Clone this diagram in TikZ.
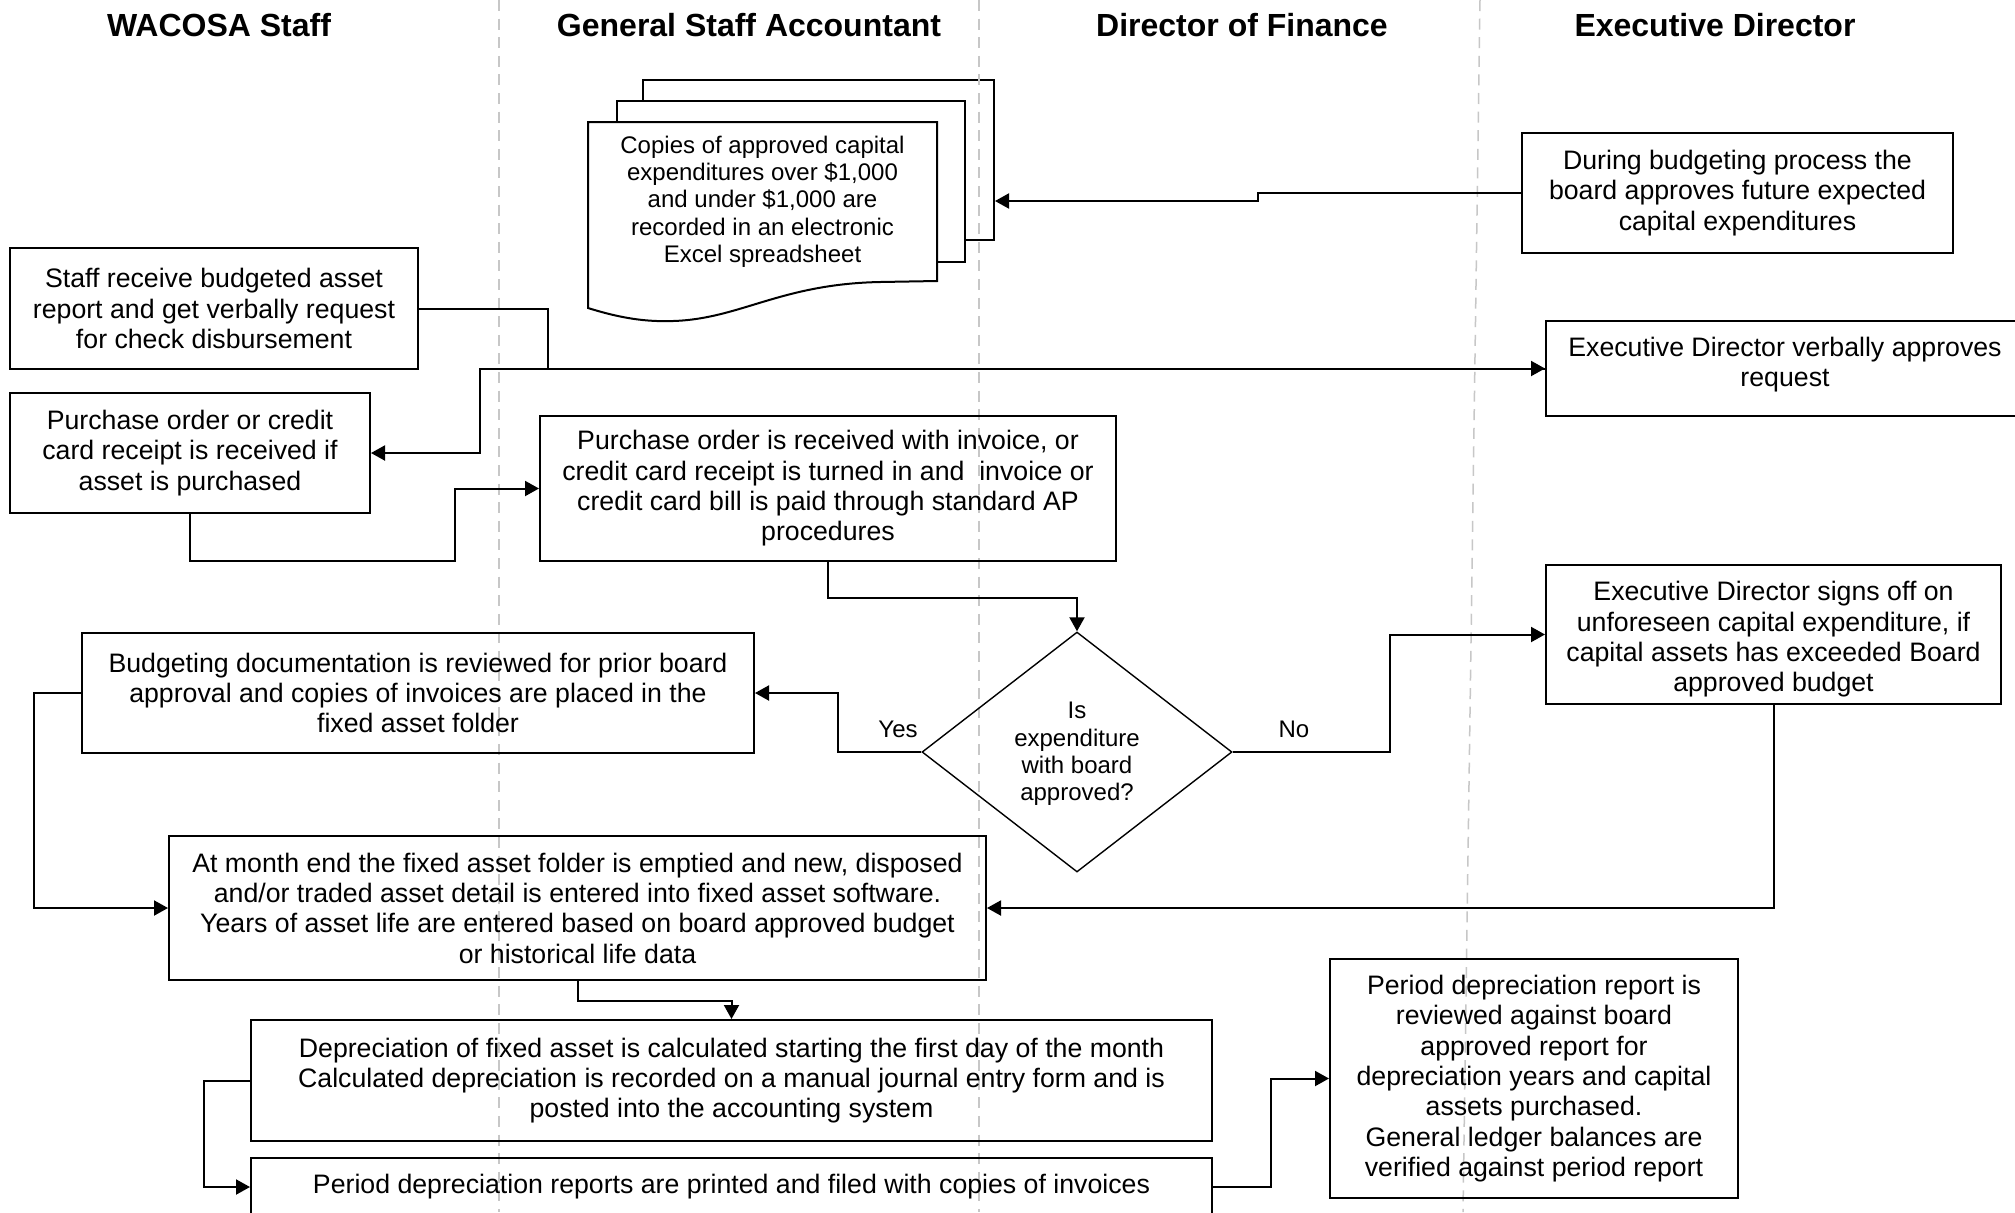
\documentclass[tikz,border=0pt]{standalone}
\usepackage{fontspec}
\setmainfont{Liberation Sans}
\usetikzlibrary{arrows.meta,shapes.geometric}
\newcommand\mainsz{\fontsize{13.35pt}{15.15pt}\selectfont}
\newcommand\docsz{\fontsize{12pt}{13.65pt}\selectfont}
\newcommand\headsz{\fontsize{16pt}{19pt}\selectfont\bfseries}
\begin{document}
\begin{tikzpicture}[x=0.5pt,y=-0.5pt,
  box/.style={draw,line width=1pt,rectangle,inner sep=0pt,align=center,font=\mainsz},
  boxtext/.style={align=center,font=\mainsz,inner sep=0pt},
  page/.style={draw,line width=1pt,fill=white,rectangle,inner sep=0pt},
  decision/.style={draw,line width=0.7pt,diamond,inner sep=0pt},
  smalltext/.style={align=center,font=\docsz,inner sep=0pt},
  lane/.style={draw=black!22,line width=0.75pt,dash pattern=on 5.5pt off 3.8pt},
  head/.style={font=\headsz,anchor=base,inner sep=0pt},
  arr/.style={line width=1pt,-{Triangle[length=7pt,width=7.5pt]}}
]
\useasboundingbox (0,0) rectangle (2015,1212);
\fill[white] (0,0) rectangle (2015,1212);

% lane headings
\node[head] (h1) at (219,36.5) {WACOSA Staff};
\node[head] (h2) at (749,36.5) {General Staff Accountant};
\node[head] (h3) at (1242,36.5) {Director of Finance};
\node[head] (h4) at (1715,36.5) {Executive Director};

% stacked document
\node[page,minimum width=175.5pt,minimum height=80pt] (page3) at (818.5,160) {};
\node[page,minimum width=174pt,minimum height=80.5pt] (page2) at (791,181.5) {};
\draw[line width=1pt,fill=white] (588,122) -- (937,122) -- (937,281) -- (880,282)
  .. controls (780,284) and (740,319) .. (673,321)
  .. controls (645,322) and (620,318) .. (588,308) -- cycle;
\node[smalltext] (doc) at (762.5,201.5) {Copies of approved capital\\expenditures over \$1,000\\and under \$1,000 are\\recorded in an electronic\\Excel spreadsheet};

% lane separators
\draw[lane] (499,0) -- (499,1212);
\draw[lane] (979,0) -- (979,1212);
\draw[lane] (1480,0) -- (1463,1212);

% process boxes
\node[box,minimum width=204pt,minimum height=60.5pt] (A) at (214,308.5)
  {Staff receive budgeted asset\\report and get verbally request\\for check disbursement};
\node[box,minimum width=180pt,minimum height=60pt] (B) at (190,453)
  {Purchase order or credit\\card receipt is received if\\asset is purchased};
\node[box,minimum width=288pt,minimum height=72.5pt] (C) at (828,488.5)
  {Purchase order is received with invoice, or\\credit card receipt is turned in and\ \ invoice or\\credit card bill is paid through standard AP\\procedures};
\node[box,minimum width=215.5pt,minimum height=60pt] (D) at (1737.5,193)
  {During budgeting process the\\board approves future expected\\capital expenditures};
\node[box,minimum width=239pt,minimum height=47.5pt] (E) at (1785,368.5) {};
\node[boxtext] (Etext) at (1785,364.5) {Executive Director verbally approves\\request};
\node[box,minimum width=227.5pt,minimum height=69.5pt] (F) at (1773.5,634.5) {};
\node[boxtext] (Ftext) at (1773.5,639.5)
  {Executive Director signs off on\\unforeseen capital expenditure, if\\capital assets has exceeded Board\\approved budget};
\node[box,minimum width=336pt,minimum height=60pt] (G) at (418,693)
  {Budgeting documentation is reviewed for prior board\\approval and copies of invoices are placed in the\\fixed asset folder};
\node[decision,minimum width=155pt,minimum height=120pt] (dia) at (1077,752) {};
\node[smalltext] (diatext) at (1077,754) {Is\\expenditure\\with board\\approved?};
\node[box,minimum width=408.5pt,minimum height=72pt] (H) at (577.5,908)
  {At month end the fixed asset folder is emptied and new, disposed\\and/or traded asset detail is entered into fixed asset software.\\Years of asset life are entered based on board approved budget\\or historical life data};
\node[box,minimum width=480.5pt,minimum height=60.5pt] (I) at (731.5,1080.5)
  {Depreciation of fixed asset is calculated starting the first day of the month\\Calculated depreciation is recorded on a manual journal entry form and is\\posted into the accounting system};
\node[box,minimum width=480.5pt,minimum height=29pt] (J) at (731.5,1187)
  {Period depreciation reports are printed and filed with copies of invoices};
\node[box,minimum width=204pt,minimum height=119.5pt] (K) at (1534,1078.5)
  {Period depreciation report is\\reviewed against board\\approved report for\\depreciation years and capital\\assets purchased.\\General ledger balances are\\verified against period report};

% decision labels
\node[smalltext] (yes) at (898,729) {Yes};
\node[smalltext] (no) at (1294,729) {No};

% connectors
\draw[arr] (D.west) -- (1258,193) -- (1258,201) -- (page3.east |- 0,201);
\draw[arr] (A.east) -| (548,368.5) -- (E.west);
\draw[arr] (E.west) -- (480,368.5) |- (B.east);
\draw[arr] (B.south) |- (455,561) |- (C.west);
\draw[arr] (C.south) -- ++(0,36) -| (dia.north);
\draw[arr] (dia.west) -- (838,752) |- (G.east);
\draw[arr] (dia.east) -- (1390,752) |- (F.west);
\draw[arr] (G.west) -- (33.5,693) |- (H.west);
\draw[arr] (F.south) |- (H.east);
\draw[arr] (H.south) -- ++(0,20) -| (I.north);
\draw[arr] (I.west) -- (204,1080.5) |- (J.west);
\draw[arr] (J.east) -- (1270.5,1187) |- (K.west);
\end{tikzpicture}
\end{document}
